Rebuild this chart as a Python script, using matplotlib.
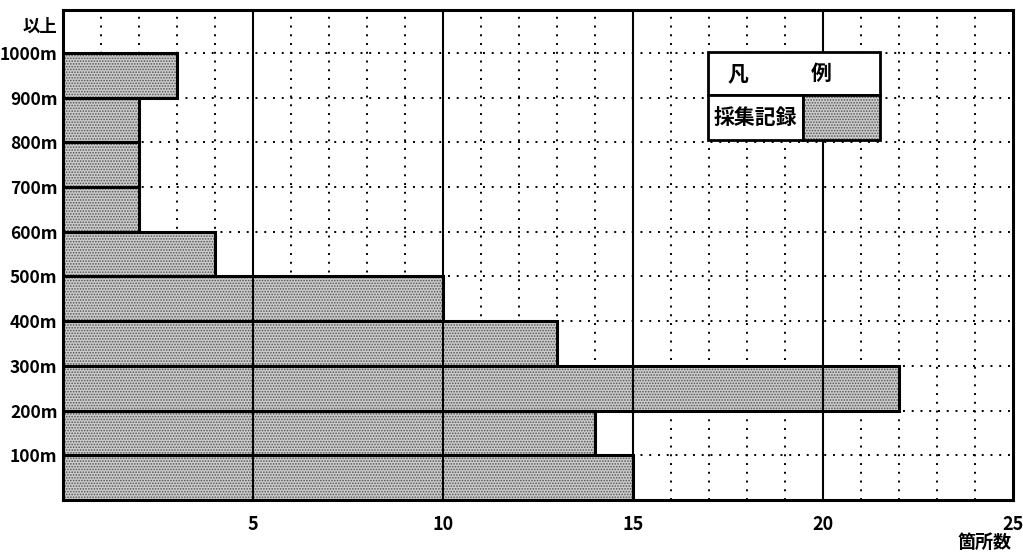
import matplotlib
matplotlib.use('Agg')
import matplotlib.pyplot as plt
from matplotlib.patches import Rectangle

plt.rcParams['font.family'] = ['Noto Sans CJK JP', 'DejaVu Sans']
plt.rcParams['hatch.linewidth'] = 0.8

# 標高帯ごとの採集記録箇所数
bin_lo = [0, 100, 200, 300, 400, 500, 600, 700, 800, 900]
counts = [15, 14, 22, 13, 10, 4, 2, 2, 2, 3]
y_tick_pos = [100, 200, 300, 400, 500, 600, 700, 800, 900, 1000]
y_tick_labels = ['100m', '200m', '300m', '400m', '500m',
                 '600m', '700m', '800m', '900m', '1000m']
x_ticks = [5, 10, 15, 20, 25]

W, H = 1023, 556
fig = plt.figure(figsize=(W / 100, H / 100), dpi=100)
ax = fig.add_axes([63 / W, 56 / H, 950 / W, 490 / H])
ax.set_xlim(0, 25)
ax.set_ylim(0, 1096)

# 点線グリッド(1箇所ごと / 100mごと)
for i in range(1, 25):
    if i % 5:
        ax.axvline(i, color='k', lw=1.4, ls=(0, (1, 3.5)), zorder=1)
for y in y_tick_pos:
    ax.axhline(y, color='k', lw=1.4, ls=(0, (1, 3.5)), zorder=1)

# 棒(網掛け)
ax.barh(bin_lo, counts, height=100, align='edge', facecolor='#cccccc',
        hatch='......', edgecolor='#555555', linewidth=0, zorder=2)
# 5箇所ごとの実線
for i in (5, 10, 15, 20):
    ax.axvline(i, color='k', lw=1.5, zorder=3)
ax.barh(bin_lo, counts, height=100, align='edge', fill=False,
        edgecolor='k', linewidth=2.2, zorder=4)

for s in ax.spines.values():
    s.set_linewidth(2.2)
    s.set_zorder(5)

ax.set_xticks(x_ticks)
ax.set_xticklabels([str(v) for v in x_ticks], fontsize=13, fontweight='bold')
ax.set_yticks(y_tick_pos)
ax.set_yticklabels(y_tick_labels, fontsize=12.5, fontweight='bold')
ax.tick_params(length=0)
ax.tick_params(axis='x', pad=11)
ax.tick_params(axis='y', pad=4)
ax.text(-0.006, 1058, '以上', transform=ax.get_yaxis_transform(),
        ha='right', va='center', fontsize=12.5, fontweight='bold')
fig.text(985 / W, 1 - 542 / H, '箇所数', ha='center', va='center',
         fontsize=13, fontweight='bold')

# 凡例
L, M, R = 0.679, 0.779, 0.860
T, C, B = 0.914, 0.827, 0.735
tr = ax.transAxes
ax.add_patch(Rectangle((L, C), R - L, T - C, transform=tr, facecolor='white',
                       edgecolor='k', lw=2, zorder=6))
ax.add_patch(Rectangle((L, B), M - L, C - B, transform=tr, facecolor='white',
                       edgecolor='k', lw=2, zorder=6))
ax.add_patch(Rectangle((M, B), R - M, C - B, transform=tr, facecolor='#cccccc',
                       hatch='......', edgecolor='#555555', lw=0, zorder=6))
ax.add_patch(Rectangle((M, B), R - M, C - B, transform=tr, fill=False,
                       edgecolor='k', lw=2, zorder=7))
ax.text(0.711, (T + C) / 2, '凡', transform=tr, ha='center', va='center',
        fontsize=15, fontweight='bold', zorder=8)
ax.text(0.798, (T + C) / 2, '例', transform=tr, ha='center', va='center',
        fontsize=15, fontweight='bold', zorder=8)
ax.text((L + M) / 2, (C + B) / 2, '採集記録', transform=tr, ha='center',
        va='center', fontsize=15, fontweight='bold', zorder=8)

fig.savefig('out.png', dpi=100)
